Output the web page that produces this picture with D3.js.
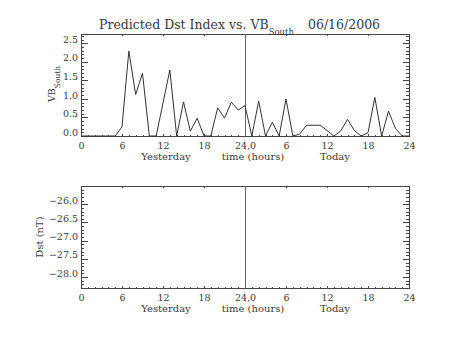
<!DOCTYPE html>
<html>
<head>
<meta charset="utf-8">
<script src="https://cdn.jsdelivr.net/npm/d3@7"></script>
<style>
  html, body { margin: 0; padding: 0; background: #fff; }
  svg { display: block; }
  text { font-family: "DejaVu Serif", serif; fill: #3a3a3a; }
</style>
</head>
<body>
<svg id="chart" width="453" height="340"></svg>
<script>
// Hourly VB_South values, yesterday 00h through today 24h (49 samples)
const vbSouth = [
  0, 0, 0, 0, 0, 0, 0.25, 2.29, 1.12, 1.69,
  0, 0, 0.89, 1.78, 0, 0.92, 0.13, 0.48, 0, 0,
  0.76, 0.48, 0.91, 0.70, 0.82, 0, 0.94, 0, 0.37, 0,
  1.00, 0, 0.05, 0.29, 0.29, 0.29, 0.15, 0, 0.13, 0.45,
  0.15, 0, 0.09, 1.04, 0, 0.67, 0.21, 0, 0
];
// Predicted Dst values (none available for this date)
const dstValues = [];

// Axis tick values and labels
const hourMajor = [0, 6, 12, 18, 24, 30, 36, 42, 48];
const hourLabels = ["0", "6", "12", "18", "24,0", "6", "12", "18", "24"];
const vbTicks = [0, 0.5, 1.0, 1.5, 2.0, 2.5];
const dstTicks = [-26.0, -26.5, -27.0, -27.5, -28.0];
const dayLabels = ["Yesterday", "time (hours)", "Today"];
const titleText = "Predicted Dst Index vs. VB";
const titleSub = "South";
const titleDate = "06/16/2006";

const svg = d3.select("#chart");
const left = 81, right = 409;
const x = d3.scaleLinear().domain([0, 48]).range([left, right]);
const hourMinor = d3.range(0, 49, 1).filter(h => h % 6 !== 0);

const lineColor = "#444";

function panel(top, bottom, y, yTicks, yMinor, fmt) {
  const g = svg.append("g");
  const tickFont = 9.5;

  // bottom axis with labels, ticks pointing inward
  const ax = g.append("g").attr("transform", `translate(0,${bottom})`)
    .call(d3.axisBottom(x).tickValues(hourMajor).tickSize(-2).tickPadding(6)
      .tickFormat((d, i) => hourLabels[i]));
  ax.selectAll("text").attr("font-size", tickFont).attr("dy", "0.71em");
  g.append("g").attr("transform", `translate(0,${bottom})`)
    .call(d3.axisBottom(x).tickValues(hourMinor).tickSize(-1).tickFormat(""));
  // top axis ticks
  g.append("g").attr("transform", `translate(0,${top})`)
    .call(d3.axisTop(x).tickValues(hourMajor).tickSize(-2).tickFormat(""));
  g.append("g").attr("transform", `translate(0,${top})`)
    .call(d3.axisTop(x).tickValues(hourMinor).tickSize(-1).tickFormat(""));

  // left axis with labels
  const ay = g.append("g").attr("transform", `translate(${left},0)`)
    .call(d3.axisLeft(y).tickValues(yTicks).tickSize(-6.5).tickPadding(3)
      .tickFormat(fmt));
  ay.selectAll("text").attr("font-size", tickFont).attr("dy", "-0.9").attr("x", -3);
  g.append("g").attr("transform", `translate(${left},0)`)
    .call(d3.axisLeft(y).tickValues(yMinor).tickSize(-3.3).tickFormat(""));
  // right axis ticks
  g.append("g").attr("transform", `translate(${right},0)`)
    .call(d3.axisRight(y).tickValues(yTicks).tickSize(-6.5).tickFormat(""));
  g.append("g").attr("transform", `translate(${right},0)`)
    .call(d3.axisRight(y).tickValues(yMinor).tickSize(-3.3).tickFormat(""));

  g.selectAll(".domain").remove();
  g.selectAll(".tick line").attr("stroke", lineColor).attr("shape-rendering", "crispEdges");
  g.selectAll(".tick text").attr("fill", "#3a3a3a");

  // frame
  g.append("rect").attr("x", left).attr("y", top)
    .attr("width", right - left).attr("height", bottom - top)
    .attr("fill", "none").attr("stroke", lineColor).attr("stroke-width", 1)
    .attr("shape-rendering", "crispEdges");

  // day separator at hour 24
  g.append("line").attr("x1", x(24)).attr("x2", x(24))
    .attr("y1", top).attr("y2", bottom)
    .attr("stroke", "#666").attr("stroke-width", 1)
    .attr("shape-rendering", "crispEdges");

  // second row of x labels
  const rowY = bottom + 24;
  const rowX = [166, 253, 335];
  g.selectAll("text.day").data(dayLabels).enter().append("text")
    .attr("class", "day")
    .attr("x", (d, i) => rowX[i]).attr("y", rowY)
    .attr("text-anchor", "middle").attr("font-size", 10)
    .text(d => d);
  return g;
}

// ---- upper panel: VB_South ----
const yTop = d3.scaleLinear().domain([0, 2.75]).range([136, 34]);
const vbMinor = d3.range(0, 28).map(i => i / 10).filter(v => Math.abs(v * 2 - Math.round(v * 2)) > 1e-6);
const gTop = panel(34, 136, yTop, vbTicks, vbMinor, d3.format(".1f"));

gTop.append("path")
  .datum(vbSouth)
  .attr("fill", "none").attr("stroke", "#333").attr("stroke-width", 1)
  .attr("d", d3.line().x((d, i) => x(i)).y(d => yTop(d)));

const ytTop = gTop.append("text")
  .attr("transform", "translate(55,84) rotate(-90)")
  .attr("text-anchor", "middle").attr("font-size", 9.5);
ytTop.append("tspan").text("VB");
ytTop.append("tspan").attr("dy", 4.5).attr("font-size", 7.5).text("South");

// ---- lower panel: Dst ----
const yBot = d3.scaleLinear().domain([-28.3, -25.5]).range([288, 186]);
const dstMinor = d3.range(-283, -255).map(i => i / 10).filter(v => Math.abs(v * 2 - Math.round(v * 2)) > 1e-6);
const gBot = panel(186, 288, yBot, dstTicks, dstMinor, d => d3.format(".1f")(d).replace("-", "\u2212"));

gBot.append("path")
  .datum(dstValues)
  .attr("fill", "none").attr("stroke", "#333").attr("stroke-width", 1)
  .attr("d", d3.line().x((d, i) => x(i)).y(d => yBot(d)));

gBot.append("text")
  .attr("transform", "translate(43,237) rotate(-90)")
  .attr("text-anchor", "middle").attr("font-size", 10)
  .text("Dst (nT)");

// ---- title ----
const title = svg.append("text").attr("x", 99).attr("y", 28.5).attr("font-size", 12.5);
title.append("tspan").text(titleText);
title.append("tspan").attr("dy", 6.5).attr("font-size", 8.5).text(titleSub);
title.append("tspan").attr("x", 308).attr("y", 28.5).text(titleDate);
</script>
</body>
</html>
